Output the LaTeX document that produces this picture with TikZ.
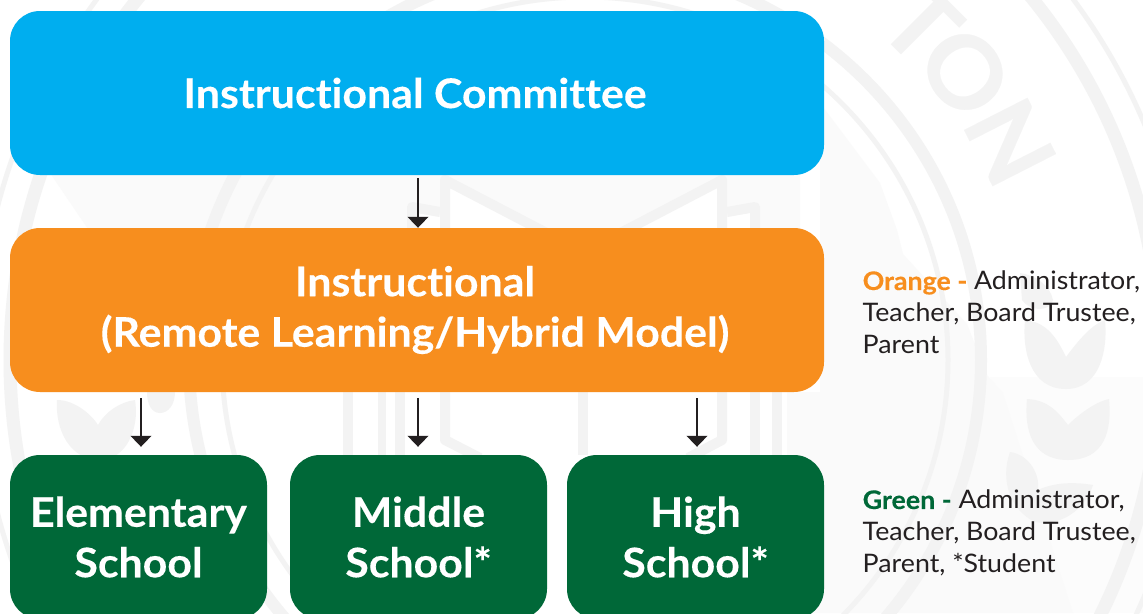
\documentclass[tikz,border=0pt]{standalone}
\usepackage{fontspec}
\setmainfont{Lato}[Ligatures=NoCommon,FakeStretch=1.05,BoldFeatures={FakeBold=0.25}]
\usetikzlibrary{arrows.meta,calc}
\definecolor{cblue}{HTML}{00AEEF}
\definecolor{corange}{HTML}{F78E1E}
\definecolor{cgreen}{HTML}{006838}
\definecolor{cink}{HTML}{231F20}
\definecolor{wm}{HTML}{F3F3F3}
\definecolor{tint}{HTML}{FAFAFA}
\definecolor{tintb}{HTML}{FCFCFC}
\tikzset{
  bigbox/.style={rounded corners=30pt,inner sep=0pt,minimum height=164pt,text=white,align=center,
    font=\fontsize{40.8}{50.5}\selectfont\bfseries},
  widebox/.style={bigbox,minimum width=814pt},
  schoolbox/.style={bigbox,minimum width=257pt},
  legendtext/.style={anchor=north west,inner sep=0pt,align=left,text=cink,
    font=\fontsize{25.5}{32}\selectfont},
  flow/.style={draw=cink,line width=2.4pt,-{Triangle[width=20.5pt,length=11pt]}},
  ring/.style={draw=wm},
  wmletter/.style={text=wm,inner sep=0pt,font=\fontsize{98}{98}\selectfont\bfseries},
  leaf/.style={fill=wm,draw=none},
  wmline/.style={draw=wm,line width=10pt}
}
\begin{document}
\begin{tikzpicture}[x=1pt,y=-1pt]
\useasboundingbox (0,0) rectangle (1143,613);
\clip (0,0) rectangle (1143,613);
\fill[white] (0,0) rectangle (1143,613);
% watermark seal: tinted areas
\fill[tint] (48,170)--(90,232)--(800,232)--(800,170)--cycle;
\fill[white] (450,187)--(540,232)--(450,232)--cycle;
\fill[white] (717,187)--(627,232)--(717,232)--cycle;
\fill[white] (417,213)--(440,217)--(440,232)--(417,232)--cycle;
\fill[white] (727,217)--(750,213)--(750,232)--(727,232)--cycle;
\fill[tintb] (990,377)--(1143,377)--(1143,613)--(1073,613)--cycle;
\fill[tint] (820,103)--(880,183)--(897,230)--(903,254)--(967,324)--(987,375)--(1003,393)--(1073,613)--(787,613)--(787,392)--(820,392)--cycle;
\draw[ring,line width=13pt] (585,360) circle[radius=575pt];
\draw[ring,line width=5pt] (585,360) circle[radius=607pt];
\draw[ring,line width=12pt] (585,360) circle[radius=396pt];
\draw[ring,line width=5pt] (585,360) circle[radius=363pt];
\node[wmletter,rotate=-45] (wmT) at (921,24) {T};
\node[wmletter,rotate=-53] (wmO) at (965,72) {O};
\node[wmletter,rotate=-63] (wmN) at (1010,142) {N};
% leaves
\path[leaf] (1025,320) .. controls (1050,322) and (1060,345) .. (1066,357) .. controls (1075,345) and (1090,325) .. (1105,320) .. controls (1108,350) and (1100,389) .. (1066,389) .. controls (1030,389) and (1022,350) .. (1025,320) -- cycle;
\path[leaf] (1027,399) .. controls (1050,400) and (1060,415) .. (1068,425) .. controls (1078,415) and (1095,402) .. (1109,399) .. controls (1112,430) and (1105,460) .. (1068,460) .. controls (1032,460) and (1024,430) .. (1027,399) -- cycle;
\path[leaf] (1010,452) .. controls (1030,455) and (1040,475) .. (1038,490) .. controls (1055,482) and (1075,482) .. (1093,485) .. controls (1085,510) and (1060,527) .. (1035,522) .. controls (1010,510) and (1000,480) .. (1010,452) -- cycle;
\path[leaf] (1020,273) .. controls (1035,275) and (1050,285) .. (1053,300) .. controls (1050,312) and (1030,312) .. (1022,300) -- cycle;
\path[leaf] (57,400) .. controls (75,400) and (92,415) .. (98,425) .. controls (105,412) and (120,402) .. (135,400) .. controls (140,430) and (125,460) .. (100,460) .. controls (70,460) and (55,430) .. (57,400) -- cycle;
\path[leaf] (147,392) -- (175,392) .. controls (175,405) and (168,413) .. (160,413) .. controls (152,413) and (147,405) .. (147,392) -- cycle;
% book / house lines
\draw[wmline] (348,392)--(348,455);
\draw[wmline,line width=8pt] (382,392)--(382,455);
\draw[wmline] (400,392)--(400,455);
\draw[wmline,line join=round] (445,392)--(445,440)--(480,458);
\draw[wmline] (583,392)--(583,455);
\draw[wmline,line join=round] (722,392)--(722,440)--(688,458);
\draw[wmline] (755,392)--(755,455);
\draw[wmline] (777,392)--(777,455);
\draw[wmline,line join=round] (445,230)--(445,180)--(560,240);
\draw[wmline,line join=round] (722,230)--(722,180)--(607,240);
\draw[wmline,line join=round] (412,232)--(412,207)--(440,212);
\draw[wmline,line join=round] (755,232)--(755,207)--(727,212);
% boxes
\node[widebox,fill=cblue] (committee) at (417,93) {Instructional Committee\hspace*{4pt}};
\node[widebox,fill=corange] (instructional) at (417,310) {Instructional\hspace*{4pt}\\(Remote Learning/Hybrid Model)\hspace*{4pt}};
\node[schoolbox,fill=cgreen] (elementary) at (138.5,537) {Elementary\\School};
\node[schoolbox,fill=cgreen] (middle) at (418.5,537) {Middle\\School*};
\node[schoolbox,fill=cgreen] (high) at (695.5,537) {High\\School*};
% connectors
\coordinate (xone) at (141,0);
\coordinate (xtwo) at (418,0);
\coordinate (xthree) at (697,0);
\draw[flow,shorten <=3pt] (committee.south -| xtwo) -- (instructional.north -| xtwo);
\draw[flow,shorten <=6pt,shorten >=8pt] (instructional.south -| xone) -- (elementary.north -| xone);
\draw[flow,shorten <=6pt,shorten >=8pt] (instructional.south -| xtwo) -- (middle.north -| xtwo);
\draw[flow,shorten <=6pt,shorten >=8pt] (instructional.south -| xthree) -- (high.north -| xthree);
% legends
\node[legendtext] (legendorange) at (862.5,271) {{\color{corange}\bfseries Orange -} Administrator,\\Teacher, Board Trustee,\\Parent};
\node[legendtext] (legendgreen) at (862.5,490) {{\color{cgreen}\bfseries Green -} Administrator,\\Teacher, Board Trustee,\\Parent, *Student};
\end{tikzpicture}
\end{document}
